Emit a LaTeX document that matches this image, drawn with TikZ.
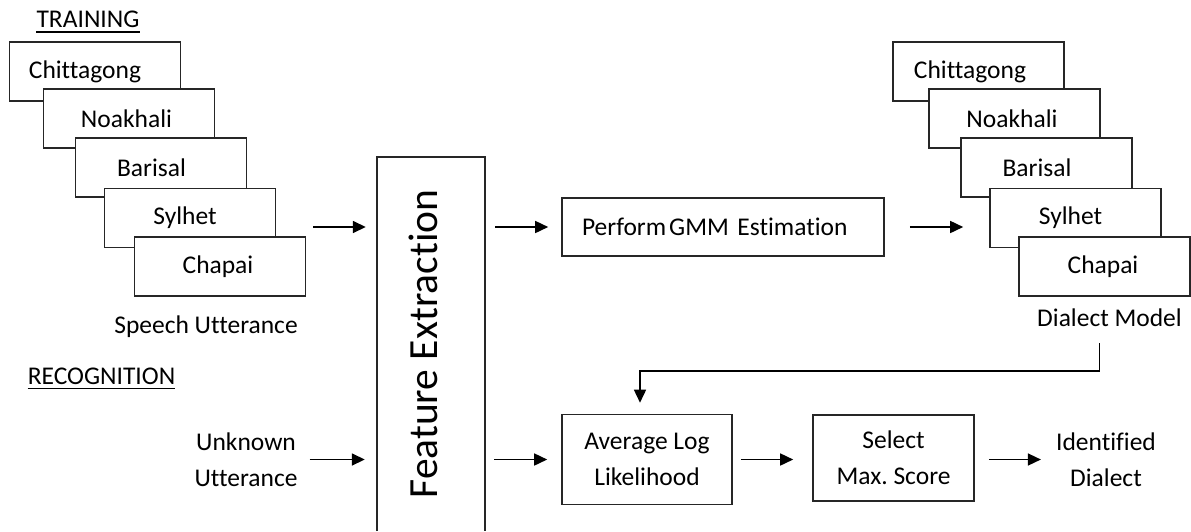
\documentclass[tikz,border=0pt]{standalone}
\usepackage{fontspec}
\setmainfont{Carlito}[Ligatures={TeX,NoCommon}]
\usepackage{graphicx}
\usetikzlibrary{arrows.meta}
\newcommand\lblfont{\fontsize{25.5}{36}\selectfont\frenchspacing}
\newcommand\fefont{\fontsize{41.5}{48}\selectfont}
\begin{document}
\begin{tikzpicture}[x=1pt,y=-1pt,
  boxline/.style={draw=black!85, line width=1.6pt},
  stackbox/.style={boxline, fill=white, minimum width=171pt, minimum height=59pt, inner sep=0pt, font=\lblfont},
  procbox/.style={boxline, fill=white, inner sep=0pt, font=\lblfont, align=center},
  lbl/.style={inner sep=0pt, font=\lblfont, align=center},
  arr/.style={line width=1.6pt, draw=black, -{Triangle[length=13pt,width=12pt]}},
  uline/.style={line width=1.3pt, draw=black}]
\path[use as bounding box] (0,0) rectangle (1191,531);

% headings
\node[lbl, anchor=base] (tr) at (88,27) {TRAINING};
\draw[uline] ([yshift=-5pt]tr.base west) -- ([yshift=-5pt]tr.base east);
\node[lbl, anchor=base] (rc) at (101.5,384) {RECOGNITION};
\draw[uline] ([yshift=-4.5pt]rc.base west) -- ([yshift=-4.5pt]rc.base east);

% left stack
\node[stackbox] (lch) at (95,71.5) {\hspace*{-20pt}Chittagong};
\node[stackbox] (lno) at (129,118.5) {\hspace*{-5pt}Noakhali};
\node[stackbox] (lba) at (161,167.5) {\hspace*{-19pt}Barisal};
\node[stackbox] (lsy) at (190,218) {\hspace*{-10pt}Sylhet};
\node[stackbox] (lcp) at (220,266.5) {\hspace*{-4pt}Chapai};
\node[lbl, anchor=base] (su) at (206,333) {Speech Utterance};

% right stack
\node[stackbox] (rch) at (978.5,71.5) {\hspace*{-17pt}Chittagong};
\node[stackbox] (rno) at (1014.5,118.5) {\hspace*{-5pt}Noakhali};
\node[stackbox] (rba) at (1046.5,167.5) {\hspace*{-19pt}Barisal};
\node[stackbox] (rsy) at (1075.5,218) {\hspace*{-10pt}Sylhet};
\node[stackbox] (rcp) at (1104.5,266.5) {\hspace*{-3pt}Chapai};
\node[lbl, anchor=base] (dm) at (1109.5,326) {Dialect Model};

% feature extraction
\node[minimum width=108pt, minimum height=374pt, inner sep=0pt] (fe) at (431,344)
  {\rotatebox{90}{\fefont Feature Extraction}\hspace*{15pt}};
\draw[boxline] (fe.south west) -- (fe.north west) -- (fe.north east) -- (fe.south east);

% process boxes
\node[procbox, minimum width=322pt, minimum height=58pt, inner xsep=20pt, text width=282pt, align=left] (gmm) at (723,227) {Perform\hspace{3pt}GMM Estimation};
\node[procbox, minimum width=170pt, minimum height=90pt] (avg) at (647,459.5) {Average Log\\Likelihood};
\node[procbox, minimum width=161pt, minimum height=86pt] (sel) at (893.5,458) {Select\\Max. Score};
\node[lbl] (idd) at (1106,460) {Identified\\Dialect};
\node[lbl] (unk) at (246,459.5) {Unknown\\Utterance};

% connectors
\draw[arr, shorten <=7pt, shorten >=11pt] (lcp.east |- gmm.west) -- (fe.west |- gmm.west);
\draw[arr, shorten <=10pt, shorten >=13pt] (fe.east |- gmm.west) -- (gmm.west);
\draw[arr, shorten <=25pt, shorten >=26pt] (gmm.east) -- (gmm.east -| rsy.west);
\draw[arr, shorten <=12pt, shorten >=12pt] (unk.east) -- (unk.east -| fe.west);
\draw[arr, shorten <=9pt, shorten >=14pt] (fe.east |- avg.west) -- (avg.west);
\draw[arr, shorten <=8pt, shorten >=19pt] (avg.east) -- (avg.east -| sel.west);
\draw[arr, shorten <=14pt, shorten >=15pt] (sel.east |- avg.east) -- (idd.west |- avg.east);
\coordinate (fbturn) at (1099.5,371);
\coordinate (fbx) at ([xshift=-7pt]avg.north);
\draw[arr, shorten <=17pt, shorten >=11pt] (dm.south -| fbturn) -- (fbturn) -| (fbx);
\end{tikzpicture}
\end{document}
